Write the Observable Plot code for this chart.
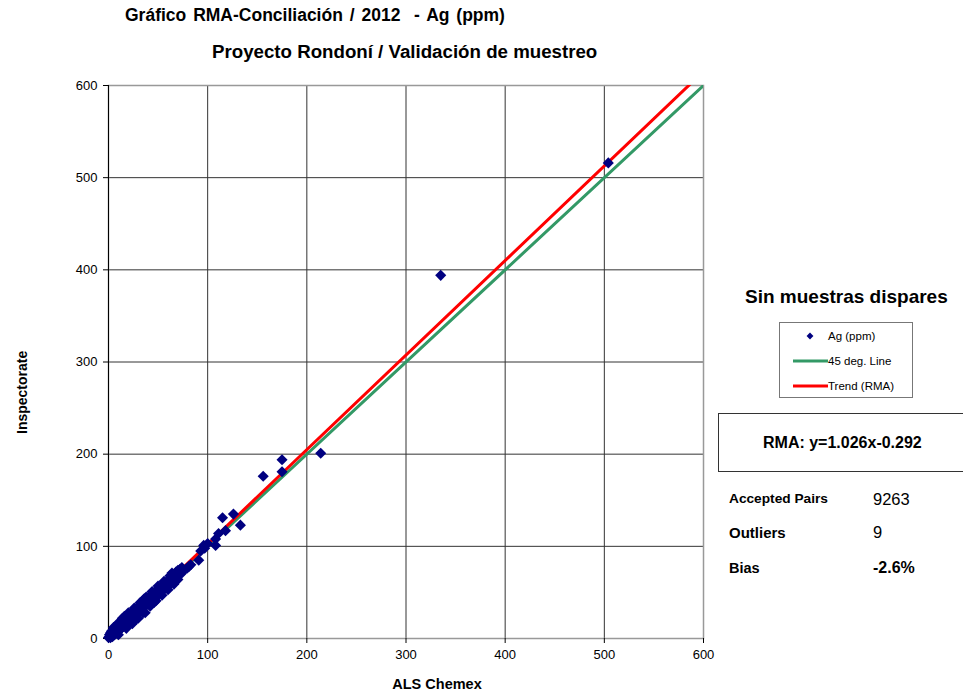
<!DOCTYPE html>
<html>
<head>
<meta charset="utf-8">
<script src="https://cdn.jsdelivr.net/npm/d3@7"></script>
<script src="https://cdn.jsdelivr.net/npm/@observablehq/plot@0.6"></script>
<style>
  body { margin: 0; background: #fff; font-family: "Liberation Sans", Arial, sans-serif; }
  #wrap { position: relative; width: 963px; height: 698px; overflow: hidden; }
  #chart { position: absolute; left: 0; top: 0; z-index: 0; }
  .t { position: absolute; white-space: nowrap; color: #000; z-index: 1; }
  .b { font-weight: bold; }
  #legend { position: absolute; left: 779px; top: 322px; width: 134px; height: 76px; border: 1px solid #777; box-sizing: border-box; z-index: 1; }
  #rmabox { position: absolute; left: 718px; top: 413px; width: 260px; height: 59px; border: 1.5px solid #333; box-sizing: border-box; z-index: 1; }
</style>
</head>
<body>
<div id="wrap">
  <div id="chart"></div>
  <div class="t b" style="left:125px; top:5px; font-size:17.5px; word-spacing:2px;">Gráfico RMA-Conciliación / 2012&nbsp; - Ag (ppm)</div>
  <div class="t b" style="left:212px; top:41px; font-size:18.7px;">Proyecto Rondoní / Validación de muestreo</div>
  <div class="t b" style="left:745px; top:286px; font-size:19px;">Sin muestras dispares</div>
  <div id="legend"></div>
  <div id="rmabox"></div>
  <div class="t b" style="left:763px; top:434px; font-size:16px;" id="rmatext"></div>
  <div class="t b" style="left:729px; top:491px; font-size:13.7px;">Accepted Pairs</div>
  <div class="t" style="left:873px; top:490px; font-size:16.5px;" id="pairs"></div>
  <div class="t b" style="left:729px; top:524px; font-size:15px;">Outliers</div>
  <div class="t" style="left:873px; top:523px; font-size:16.5px;" id="outliers"></div>
  <div class="t b" style="left:729px; top:560px; font-size:14.5px;">Bias</div>
  <div class="t b" style="left:873px; top:559px; font-size:16px;" id="bias"></div>
</div>
<script>
// ALS Chemex (x) vs Inspectorate (y) assays, Ag in ppm
const alsChemex = [0,1,2,1,3,2,4,5,3,6,7,5,8,9,10,8,11,12,13,10,14,15,16,17,18,15,19,20,21,22,24,23,25,26,27,28,29,30,31,32,33,34,35,36,37,38,39,40,41,42,43,44,45,46,47,48,50,51,52,54,55,56,58,59,60,61,62,63,64,65,66,67,68,69,70,71,72,73,74,76,79,81,83,
  10,18,14,24,20,30,26,35,32,42,38,48,44,54,50,60,56,66,62,70,16,28,36,46,
  91,93,96,100,97,108,108,111,115,118,126,133,156,175,175,214,335,504];
const inspectorate = [1,2,1,4,3,6,2,5,8,4,9,12,6,11,8,14,13,10,16,4,12,18,14,20,15,22,19,24,17,22,26,20,29,24,31,27,33,28,36,30,38,33,40,35,28,42,37,44,39,47,41,45,49,43,51,47,53,48,55,51,58,54,60,56,63,58,65,61,71,63,68,66,72,67,74,69,75,70,77,74,76,78,80,
  17,11,22,16,28,22,33,28,39,35,45,41,51,47,57,53,62,59,68,64,24,21,43,39,
  85,95,101,103,98,108,101,114,131,117,135,123,176,181,194,201,394,516];

// Reduced-major-axis fit and summary statistics
const rmaSlope = 1.026;
const rmaIntercept = -0.292;
const acceptedPairs = 9263;
const outliers = 9;
const bias = "-2.6%";

const axisTicks = [0, 100, 200, 300, 400, 500, 600];
const lineX = [0, 600];

const points = alsChemex.map((x, i) => ({x, y: inspectorate[i]}));
const unityLine = lineX.map(x => ({x, y: x}));
const trendLine = lineX.map(x => ({x, y: rmaSlope * x + rmaIntercept}));

const GREEN = "#339966", RED = "#ff0000", NAVY = "#000080";

const plot = Plot.plot({
  width: 720,
  height: 698,
  marginLeft: 108,
  marginRight: 17,
  marginTop: 85,
  marginBottom: 60,
  style: {fontFamily: "Liberation Sans, Arial, sans-serif", fontSize: "13px", background: "transparent"},
  x: {domain: [0, 600], ticks: axisTicks, label: null},
  y: {domain: [0, 600], ticks: axisTicks, label: null},
  marks: [
    Plot.gridX(axisTicks, {stroke: "#333", strokeOpacity: 1, strokeWidth: 1}),
    Plot.gridY(axisTicks, {stroke: "#333", strokeOpacity: 1, strokeWidth: 1}),
    Plot.frame({stroke: "#999", strokeWidth: 1.5}),
    Plot.ruleX([0], {stroke: "#000", strokeWidth: 1}),
    Plot.axisX(axisTicks, {tickSize: 5, tickPadding: 6, fontSize: 13, stroke: "#000", fill: "#000", label: null}),
    Plot.axisY(axisTicks, {tickSize: 5, tickPadding: 6, fontSize: 13, stroke: "#000", fill: "#000", label: null}),
    Plot.line(unityLine, {x: "x", y: "y", stroke: GREEN, strokeWidth: 3, clip: true}),
    Plot.line(trendLine, {x: "x", y: "y", stroke: RED, strokeWidth: 3, clip: true}),
    Plot.dot(points, {x: "x", y: "y", symbol: "diamond2", r: 5, fill: NAVY, stroke: "none"}),
    Plot.text(["Inspectorate"], {frameAnchor: "left", dx: -86, dy: 72, rotate: -90, fontWeight: "bold", fontSize: 14, fill: "#000"}),
    Plot.text(["ALS Chemex"], {frameAnchor: "bottom", dx: 31, dy: 50, fontWeight: "bold", fontSize: 14.5, fill: "#000"})
  ]
});
document.getElementById("chart").appendChild(plot);

// Legend box: marker and line swatches drawn as a tiny SVG
const legendItems = [
  {label: "Ag (ppm)", kind: "dot", color: NAVY},
  {label: "45 deg. Line", kind: "line", color: GREEN},
  {label: "Trend (RMA)", kind: "line", color: RED}
];
const lg = d3.select("#legend").append("svg").attr("width", 132).attr("height", 74)
  .style("font-family", "Liberation Sans, Arial, sans-serif").style("font-size", "11.5px");
legendItems.forEach((d, i) => {
  const cy = 13 + i * 25;
  if (d.kind === "dot") {
    lg.append("path").attr("d", d3.symbol(d3.symbolDiamond2, 30)()).attr("transform", `translate(30,${cy})`).attr("fill", d.color);
  } else {
    lg.append("line").attr("x1", 13).attr("x2", 48).attr("y1", cy).attr("y2", cy).attr("stroke", d.color).attr("stroke-width", 3);
  }
  lg.append("text").attr("x", 48).attr("y", cy + 4).text(d.label);
});

document.getElementById("rmatext").textContent = `RMA: y=${rmaSlope}x${rmaIntercept < 0 ? "-" : "+"}${Math.abs(rmaIntercept)}`;
document.getElementById("pairs").textContent = acceptedPairs;
document.getElementById("outliers").textContent = outliers;
document.getElementById("bias").textContent = bias;
</script>
</body>
</html>
